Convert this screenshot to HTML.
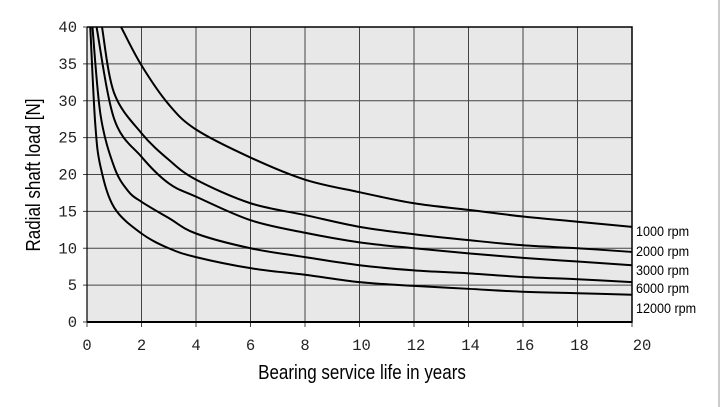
<!DOCTYPE html>
<html><head><meta charset="utf-8"><style>
html,body{margin:0;padding:0;background:#fff;}
svg{display:block;}
.tick{font-family:"Liberation Mono",monospace;font-size:15.5px;fill:#222;}
.lab{font-family:"Liberation Sans",sans-serif;font-size:14px;fill:#000;}
.title{font-family:"Liberation Sans",sans-serif;font-size:20px;fill:#000;}
</style></head><body>
<svg id="chart" width="720" height="407" viewBox="0 0 720 407">
<line x1="719" y1="0" x2="719" y2="407" stroke="#999" stroke-width="1"/>
<g id="plot"></g>
<text class="title" transform="translate(40,175) rotate(-90) scale(0.85,1)" text-anchor="middle">Radial shaft load [N]</text>
<text class="title" x="0" y="0" text-anchor="middle" transform="translate(362,379) scale(0.85,1)">Bearing service life in years</text>
</svg>
<script>
const xTicks=[0,2,4,6,8,10,12,14,16,18,20];
const yTicks=[0,5,10,15,20,25,30,35,40];
const seriesNames=["1000 rpm","2000 rpm","3000 rpm","6000 rpm","12000 rpm"];
const s1000X=[1.25,2,3,4,6,8,10,12,14,16,18,20];
const s1000Y=[40,34.8,29.5,26.1,22.3,19.3,17.6,16.1,15.2,14.3,13.6,12.9];
const s2000X=[0.55,1,2,3,4,6,8,10,12,14,16,18,20];
const s2000Y=[40,31,25.6,22,19.3,16.1,14.5,12.9,11.9,11.1,10.4,10.0,9.5];
const s3000X=[0.35,1,2,3,4,6,8,10,12,14,16,18,20];
const s3000Y=[40,27.5,22.4,18.8,17,13.8,12.1,10.8,10,9.3,8.7,8.2,7.7];
const s6000X=[0.2,0.5,1,1.5,2,3,4,6,8,10,12,14,16,18,20];
const s6000Y=[40,28,21,17.8,16.3,14.1,12.0,10,8.8,7.7,7.0,6.6,6.1,5.8,5.4];
const s12000X=[0.12,0.3,0.5,1,2,3,4,6,8,10,12,14,16,18,20];
const s12000Y=[40,27,21,15.5,12,10,8.8,7.3,6.4,5.4,4.9,4.5,4.1,3.9,3.7];
const allX=[s1000X,s2000X,s3000X,s6000X,s12000X];
const allY=[s1000Y,s2000Y,s3000Y,s6000Y,s12000Y];

const X0=87,X1=632,Y0=322,Y1=27;
const sx=v=>X0+(v-0)/(20-0)*(X1-X0);
const sy=v=>Y0-(v-0)/(40-0)*(Y0-Y1);
const NS="http://www.w3.org/2000/svg";
const plot=document.getElementById('plot');
function mk(t,a){const e=document.createElementNS(NS,t);for(const k in a)e.setAttribute(k,a[k]);return e;}

const bg=mk('rect',{x:X0,y:Y1,width:X1-X0,height:Y0-Y1,fill:'#e8e8e8'});


plot.appendChild(bg);

xTicks.forEach(t=>{
  const g=mk('line',{x1:sx(t),y1:Y1,x2:sx(t),y2:Y0+5,stroke:'#444','stroke-width':1});
  
  
  plot.appendChild(g);
  const lbl=mk('text',{x:sx(t)+(t===20?10:0)+(t>=10&&t<20?2:0),y:350,'text-anchor':'middle','class':'tick'});
  lbl.textContent=t;
  
  
  plot.appendChild(lbl);
});
yTicks.forEach(t=>{
  const g=mk('line',{x1:X0-4,y1:sy(t),x2:X1,y2:sy(t),stroke:'#444','stroke-width':1});
  
  
  plot.appendChild(g);
  const lbl=mk('text',{x:77,y:sy(t)+5,'text-anchor':'end','class':'tick'});
  lbl.textContent=t;
  
  
  plot.appendChild(lbl);
});
const ax=mk('path',{d:`M${X0} ${Y1}H${X1}V${Y0}H${X0}`,fill:'none',stroke:'#000','stroke-width':1.5});


plot.appendChild(ax);
const ax2=mk('line',{x1:X0,y1:Y0,x2:X1,y2:Y0,stroke:'#000','stroke-width':2});


plot.appendChild(ax2);
const ax3=mk('line',{x1:X0,y1:Y1,x2:X0,y2:Y0,stroke:'#000','stroke-width':1.2});


plot.appendChild(ax3);

function curve(xs,ys){
  const p=xs.map((x,i)=>[sx(x),sy(ys[i])]);
  let d=`M${p[0][0]} ${p[0][1]}`;
  for(let i=0;i<p.length-1;i++){
    const a=p[i-1]||p[i],b=p[i],c=p[i+1],e=p[i+2]||c;
    const c1=[b[0]+(c[0]-a[0])/6,b[1]+(c[1]-a[1])/6];
    const c2=[c[0]-(e[0]-b[0])/6,c[1]-(e[1]-b[1])/6];
    d+=` C${c1[0]} ${c1[1]} ${c2[0]} ${c2[1]} ${c[0]} ${c[1]}`;
  }
  return d;
}
const labY=[231,251,270,288,308];
allX.forEach((xs,i)=>{
  const path=mk('path',{d:curve(xs,allY[i]),fill:'none',stroke:'#000','stroke-width':2});
  
  
  plot.appendChild(path);
  const t=mk('text',{x:0,y:0,'class':'lab',transform:`translate(636,${labY[i]+5}) scale(0.9,1)`});
  t.textContent=seriesNames[i];
  
  
  plot.appendChild(t);
});
</script>
</body></html>
